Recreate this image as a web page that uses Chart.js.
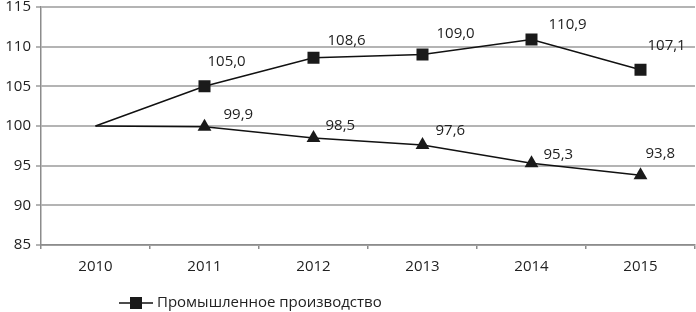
<!DOCTYPE html>
<html>
<head>
<meta charset="utf-8">
<script src="https://cdn.jsdelivr.net/npm/chart.js@4"></script>
<style>
  html, body { margin: 0; padding: 0; background: #fff; }
  #wrap { width: 696px; height: 312px; }
</style>
</head>
<body>
<div id="wrap"><canvas id="chart"></canvas></div>
<script>
// данные графика
const years = ['2010', '2011', '2012', '2013', '2014', '2015'];
const industry = [100, 105.0, 108.6, 109.0, 110.9, 107.1];
const secondSeries = [100, 99.9, 98.5, 97.6, 95.3, 93.8];
const yTicks = [85, 90, 95, 100, 105, 110, 115];
const legendName = 'Промышленное производство';

// сдвиги подписей значений (как в исходнике)
const squareShift = [null, [3, -25], [14, -17], [14, -21], [17, -15], [7, -24]];
const triangleShift = [null, [19, -12], [12, -12], [13, -14], [12, -9], [5, -21]];

const FONT = "'Open Sans', sans-serif";
const TEXT = '#222222';
const fmt = v => v.toFixed(1).replace('.', ',');

// подписи значений рядом с точками
const valueLabels = {
    id: 'valueLabels',
    afterDatasetsDraw(chart) {
        const ctx = chart.ctx;
        ctx.save();
        ctx.font = '15px ' + FONT;
        ctx.fillStyle = TEXT;
        ctx.textAlign = 'left';
        ctx.textBaseline = 'middle';
        chart.data.datasets.forEach((ds, i) => {
            const meta = chart.getDatasetMeta(i);
            const shifts = i === 0 ? squareShift : triangleShift;
            meta.data.forEach((pt, j) => {
                if (!shifts[j]) return;
                ctx.fillText(fmt(ds.data[j]), pt.x + shifts[j][0], pt.y + shifts[j][1]);
            });
        });
        ctx.restore();
    }
};

// легенда: линия с квадратом и название
const lineLegend = {
    id: 'lineLegend',
    afterDraw(chart) {
        const ctx = chart.ctx;
        const y = 303;
        ctx.save();
        ctx.strokeStyle = '#111';
        ctx.lineWidth = 1.5;
        ctx.beginPath();
        ctx.moveTo(119, y);
        ctx.lineTo(153, y);
        ctx.stroke();
        ctx.fillStyle = '#1a1a1a';
        ctx.fillRect(130, y - 6, 12, 12);
        ctx.font = '15px ' + FONT;
        ctx.fillStyle = TEXT;
        ctx.textBaseline = 'middle';
        ctx.fillText(legendName, 157, y);
        ctx.restore();
    }
};

const hideFirst = (r) => [0, r, r, r, r, r];

new Chart(document.getElementById('chart'), {
    type: 'line',
    data: {
        labels: years,
        datasets: [{
            label: legendName,
            data: industry,
            borderColor: '#111',
            borderWidth: 1.5,
            pointStyle: 'rect',
            pointRadius: hideFirst(8.5),
            pointBackgroundColor: '#1a1a1a',
            pointBorderColor: '#1a1a1a',
            pointBorderWidth: 0,
            tension: 0
        }, {
            label: '',
            data: secondSeries,
            borderColor: '#111',
            borderWidth: 1.5,
            pointStyle: 'triangle',
            pointRadius: hideFirst(8),
            pointBackgroundColor: '#1a1a1a',
            pointBorderColor: '#1a1a1a',
            pointBorderWidth: 0,
            tension: 0
        }]
    },
    options: {
        responsive: true,
        maintainAspectRatio: false,
        animation: false,
        layout: { autoPadding: false, padding: { top: 7, right: 1, bottom: 27, left: 0 } },
        plugins: {
            legend: { display: false },
            tooltip: { enabled: false }
        },
        scales: {
            x: {
                offset: true,
                afterFit: s => { s.paddingLeft = 0; s.paddingRight = 0; },
                grid: {
                    offset: true,
                    drawOnChartArea: false,
                    drawTicks: true,
                    tickLength: 4,
                    color: '#8c8c8c',
                    lineWidth: 1.5
                },
                border: { color: '#8c8c8c', width: 1.5 },
                ticks: { color: TEXT, font: { family: FONT, size: 15 }, padding: 9 }
            },
            y: {
                min: 85,
                max: 115,
                afterFit: s => { s.width = 41; s.paddingTop = 0; s.paddingBottom = 0; },
                afterBuildTicks: s => { s.ticks = yTicks.map(v => ({ value: v })); },
                grid: {
                    color: '#b4b4b4',
                    lineWidth: 2,
                    drawTicks: true,
                    tickLength: 5
                },
                border: { color: '#8c8c8c', width: 1.5 },
                ticks: { color: TEXT, font: { family: FONT, size: 15 }, padding: 5 }
            }
        }
    },
    plugins: [valueLabels, lineLegend]
});
</script>
</body>
</html>
